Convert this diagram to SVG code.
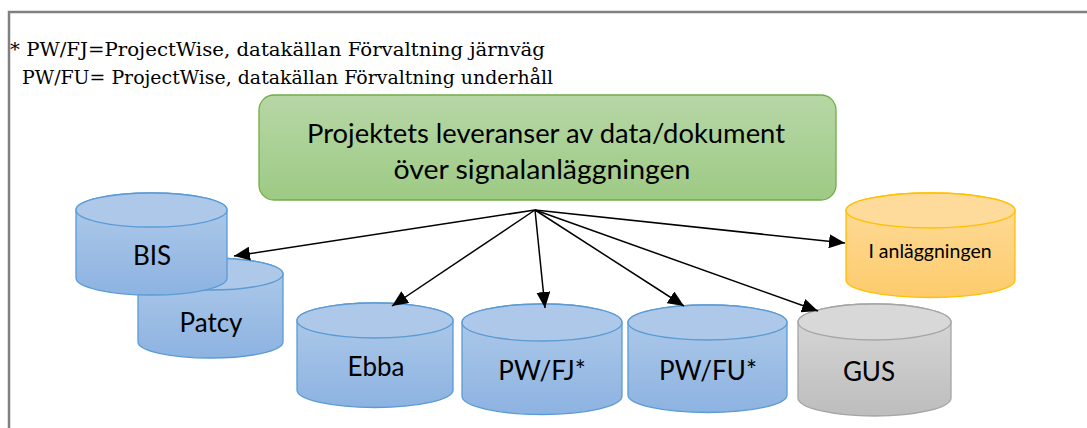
<svg xmlns="http://www.w3.org/2000/svg" width="1087" height="428" viewBox="0 0 1087 428">
<defs>
<linearGradient id="gGreen" x1="0" y1="0" x2="0" y2="1"><stop offset="0" stop-color="#b7d7a6"/><stop offset="1" stop-color="#9dca84"/></linearGradient>
<linearGradient id="gBlue" x1="0" y1="0" x2="0" y2="1"><stop offset="0" stop-color="#b0cbea"/><stop offset="1" stop-color="#8db3e1"/></linearGradient>
<linearGradient id="gOrange" x1="0" y1="0" x2="0" y2="1"><stop offset="0" stop-color="#fedc9c"/><stop offset="1" stop-color="#fdcb6c"/></linearGradient>
<linearGradient id="gGray" x1="0" y1="0" x2="0" y2="1"><stop offset="0" stop-color="#d9d9d9"/><stop offset="1" stop-color="#bdbdbd"/></linearGradient>
<marker id="ah" viewBox="0 0 16 14" refX="16" refY="7" markerWidth="16" markerHeight="14" markerUnits="userSpaceOnUse" orient="auto">
<path d="M0,0 L16,7 L0,14 z" fill="#000"/>
</marker>
</defs>
<style>
.note{font-family:"DejaVu Serif","Liberation Serif",serif;font-size:18.5px;fill:#000}
.lbl{font-family:Lato,"Open Sans","Liberation Sans",sans-serif;fill:#000;text-anchor:middle}
.big{font-size:26px}
.small{font-size:19.5px}
.box{font-size:27.5px}
.blue{fill:url(#gBlue);stroke:#5b9bd5;stroke-width:1.3}
.blueTop{fill:#adc8e8;stroke:#5b9bd5;stroke-width:1.3}
.orange{fill:url(#gOrange);stroke:#ffc000;stroke-width:1.3}
.orangeTop{fill:#fedb9a;stroke:#ffc000;stroke-width:1.3}
.gray{fill:url(#gGray);stroke:#a5a5a5;stroke-width:1.3}
.grayTop{fill:#d8d8d8;stroke:#a5a5a5;stroke-width:1.3}
.conn{stroke:#000;stroke-width:1.5;fill:none;marker-end:url(#ah)}
</style>
<rect width="1087" height="428" fill="#fff"/>
<path d="M9,430 V12 H1090" fill="none" stroke="#808080" stroke-width="2.5"/>
<g id="note">
<text class="note" x="10" y="56" textLength="535" lengthAdjust="spacingAndGlyphs">* PW/FJ=ProjectWise, datakällan Förvaltning järnväg</text>
<text class="note" x="22" y="84" textLength="531" lengthAdjust="spacingAndGlyphs">PW/FU= ProjectWise, datakällan Förvaltning underhåll</text>
</g>
<g id="source">
<rect x="259" y="95" width="577" height="105" rx="15" fill="url(#gGreen)" stroke="#70ad47" stroke-width="1.3"/>
<text class="lbl box" x="546" y="143" textLength="478" lengthAdjust="spacingAndGlyphs">Projektets leveranser av data/dokument</text>
<text class="lbl box" x="542" y="179" textLength="297" lengthAdjust="spacingAndGlyphs">över signalanläggningen</text>
</g>
<g id="patcy">
<path class="blue" d="M138,274 V342 A72.5,16 0 0 0 283,342 V274 A72.5,16 0 0 0 138,274 z"/>
<ellipse class="blueTop" cx="210.5" cy="274" rx="72.5" ry="16"/>
<text class="lbl big" x="211" y="332">Patcy</text>
</g>
<g id="bis">
<path class="blue" d="M76,210 V278 A75.5,17 0 0 0 227,278 V210 A75.5,17 0 0 0 76,210 z"/>
<ellipse class="blueTop" cx="151.5" cy="210" rx="75.5" ry="17"/>
<text class="lbl big" x="152" y="265">BIS</text>
</g>
<g id="ebba">
<path class="blue" d="M297,320.5 V390 A78,17.5 0 0 0 453,390 V320.5 A78,17.5 0 0 0 297,320.5 z"/>
<ellipse class="blueTop" cx="375" cy="320.5" rx="78" ry="17.5"/>
<text class="lbl big" x="376" y="376">Ebba</text>
</g>
<g id="pwfj">
<path class="blue" d="M462,322.5 V396 A80,18.5 0 0 0 622,396 V322.5 A80,18.5 0 0 0 462,322.5 z"/>
<ellipse class="blueTop" cx="542" cy="322.5" rx="80" ry="18.5"/>
<text class="lbl big" x="542" y="380">PW/FJ*</text>
</g>
<g id="pwfu">
<path class="blue" d="M628,322.5 V395 A79.5,17.5 0 0 0 787,395 V322.5 A79.5,17.5 0 0 0 628,322.5 z"/>
<ellipse class="blueTop" cx="707.5" cy="322.5" rx="79.5" ry="17.5"/>
<text class="lbl big" x="708" y="380">PW/FU*</text>
</g>
<g id="gus">
<path class="gray" d="M798,322 V398 A76.5,18 0 0 0 951,398 V322 A76.5,18 0 0 0 798,322 z"/>
<ellipse class="grayTop" cx="874.5" cy="322" rx="76.5" ry="18"/>
<text class="lbl big" x="869" y="381">GUS</text>
</g>
<g id="ianl">
<path class="orange" d="M846,210.5 V280 A84.5,17.5 0 0 0 1015,280 V210.5 A84.5,17.5 0 0 0 846,210.5 z"/>
<ellipse class="orangeTop" cx="930.5" cy="210.5" rx="84.5" ry="17.5"/>
<text class="lbl small" x="930" y="258">I anläggningen</text>
</g>
<g id="connectors">
<line class="conn" x1="535" y1="210" x2="234" y2="256"/>
<line class="conn" x1="535" y1="210" x2="392" y2="306"/>
<line class="conn" x1="535" y1="210" x2="545" y2="308"/>
<line class="conn" x1="535" y1="210" x2="684" y2="306"/>
<line class="conn" x1="535" y1="210" x2="818" y2="311"/>
<line class="conn" x1="535" y1="210" x2="845" y2="243"/>
</g>
</svg>
